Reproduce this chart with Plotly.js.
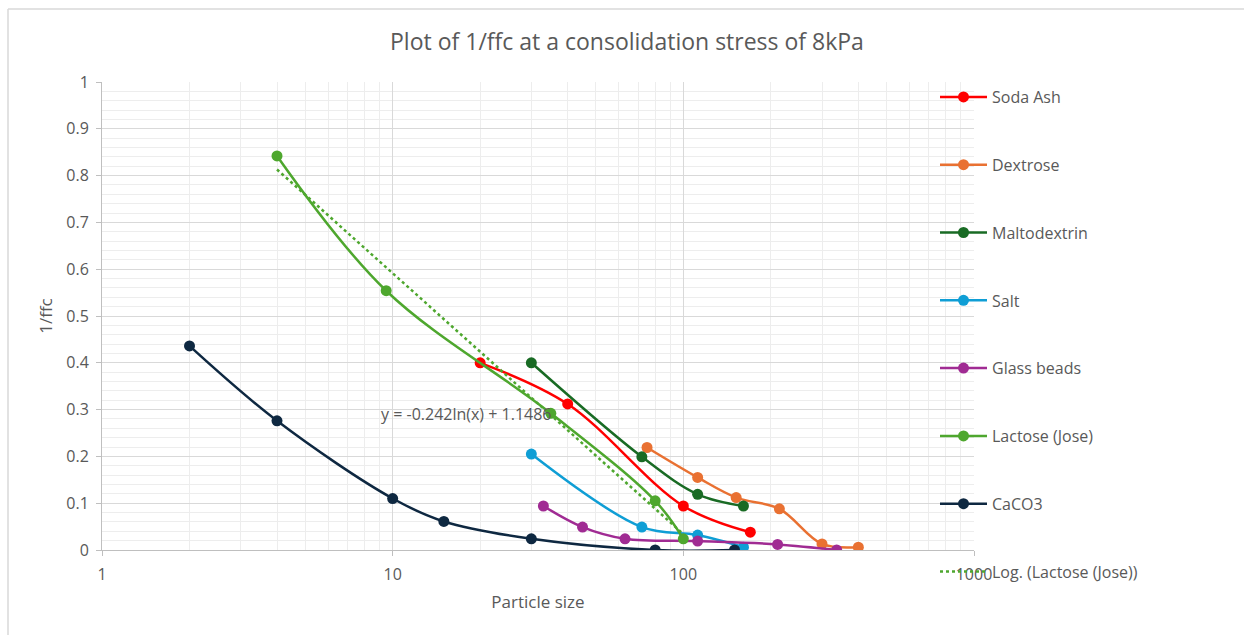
<!DOCTYPE html>
<html>
<head>
<meta charset="utf-8">
<script src="https://cdn.plot.ly/plotly-3.0.1.min.js"></script>
<style>html,body{margin:0;padding:0;background:#fff;overflow:hidden;}#chart{width:1244px;height:635px;}</style>
</head>
<body>
<div id="chart"></div>
<script>
// ---- data ----
const sodaAshX = [20, 40, 100, 170];
const sodaAshY = [0.400, 0.312, 0.094, 0.038];

const dextroseX = [75, 112, 152, 214, 300, 400];
const dextroseY = [0.219, 0.155, 0.112, 0.088, 0.013, 0.006];

const maltodextrinX = [30, 72, 112, 161];
const maltodextrinY = [0.400, 0.199, 0.119, 0.094];

const saltX = [30, 72, 112, 161];
const saltY = [0.205, 0.049, 0.032, 0.006];

const glassBeadsX = [33, 45, 63, 112, 211, 337];
const glassBeadsY = [0.094, 0.049, 0.024, 0.019, 0.012, 0.000];

const lactoseX = [4, 9.5, 35, 80, 100];
const lactoseY = [0.842, 0.554, 0.292, 0.105, 0.024];

const caco3X = [2, 4, 10, 15, 30, 80, 150];
const caco3Y = [0.436, 0.276, 0.110, 0.061, 0.024, 0.000, 0.000];

// logarithmic trendline for Lactose (Jose): y = a ln(x) + b
const trendA = -0.242;
const trendB = 1.1486;
const trendLabel = 'y = -0.242ln(x) + 1.1486';

const seriesNames = ['Soda Ash', 'Dextrose', 'Maltodextrin', 'Salt', 'Glass beads', 'Lactose (Jose)', 'CaCO3'];
const seriesColors = ['#FF0000', '#E97132', '#196B24', '#0F9ED5', '#A02B93', '#4EA72E', '#0E2841'];
const seriesX = [sodaAshX, dextroseX, maltodextrinX, saltX, glassBeadsX, lactoseX, caco3X];
const seriesY = [sodaAshY, dextroseY, maltodextrinY, saltY, glassBeadsY, lactoseY, caco3Y];

const textColor = '#595959';
const fontFam = 'Open Sans, sans-serif';

const traces = seriesNames.map((n, i) => ({
  type: 'scatter', mode: 'lines+markers', name: n,
  x: seriesX[i], y: seriesY[i],
  line: {color: seriesColors[i], width: 2.5, shape: 'spline', smoothing: 1},
  marker: {color: seriesColors[i], size: 11},
  legendgroup: 'g' + i
}));

const tx = [Math.min(...lactoseX), Math.max(...lactoseX)];
traces.push({
  type: 'scatter', mode: 'lines', name: 'Log. (Lactose (Jose))',
  x: tx, y: tx.map(v => trendA * Math.log(v) + trendB),
  line: {color: '#4EA72E', width: 2.5, dash: 'dot'},
  legendgroup: 'gt'
});

const layout = {
  width: 1244, height: 635,
  paper_bgcolor: '#ffffff', plot_bgcolor: '#ffffff',
  margin: {l: 102, r: 270, t: 82, b: 85},
  font: {family: fontFam, color: textColor, size: 15},
  title: {text: 'Plot of 1/ffc at a consolidation stress of 8kPa',
          font: {size: 23, color: textColor, family: fontFam},
          x: 0.504, xref: 'container', y: 1 - 42/635, yref: 'container', yanchor: 'middle', xanchor: 'center'},
  xaxis: {
    type: 'log', range: [0, 3], dtick: 1,
    showgrid: true, gridcolor: '#D9D9D9', gridwidth: 1,
    minor: {showgrid: true, gridcolor: '#EDEDED', dtick: 'D1', ticks: ''},
    showline: true, linecolor: '#BFBFBF', linewidth: 1,
    ticks: 'outside', ticklen: 5, tickcolor: '#BFBFBF',
    ticklabelstandoff: 5,
    tickfont: {size: 16, color: textColor},
    zeroline: false,
    title: {text: 'Particle size', font: {size: 17, color: textColor}, standoff: 11}
  },
  yaxis: {
    range: [0, 1], dtick: 0.1,
    showgrid: true, gridcolor: '#D9D9D9', gridwidth: 1,
    minor: {showgrid: true, gridcolor: '#EDEDED', dtick: 0.02, ticks: ''},
    showline: true, linecolor: '#BFBFBF', linewidth: 1,
    ticks: 'outside', ticklen: 5, tickcolor: '#BFBFBF',
    ticklabelstandoff: 4,
    tickfont: {size: 16, color: textColor},
    zeroline: false,
    title: {text: '1/ffc', font: {size: 17, color: textColor}, standoff: 9}
  },
  showlegend: true,
  legend: {
    x: (935 - 102) / 872, xanchor: 'left', y: 1 + 2 / 468, yanchor: 'top',
    bgcolor: 'rgba(0,0,0,0)', borderwidth: 0,
    traceorder: 'grouped', tracegroupgap: 44, itemwidth: 47,
    maxheight: 635,
    font: {size: 16, color: textColor, family: fontFam}
  },
  annotations: [{
    text: trendLabel, xref: 'x', yref: 'y',
    x: Math.log10(9.0), y: 0.29, xanchor: 'left', yanchor: 'middle',
    showarrow: false, font: {size: 16, color: textColor}
  }],
  shapes: [
    {type: 'line', xref: 'paper', yref: 'paper',
     x0: (8 - 102) / 872, x1: (1244 - 102) / 872, y0: (550 - 9) / 468, y1: (550 - 9) / 468,
     line: {color: '#D9D9D9', width: 1.5}, layer: 'below'},
    {type: 'line', xref: 'paper', yref: 'paper',
     x0: (8 - 102) / 872, x1: (8 - 102) / 872, y0: (550 - 9) / 468, y1: -(85) / 468,
     line: {color: '#D9D9D9', width: 1.5}, layer: 'below'}
  ]
};

Plotly.newPlot('chart', traces, layout, {displayModeBar: false, staticPlot: true});
</script>
</body>
</html>
